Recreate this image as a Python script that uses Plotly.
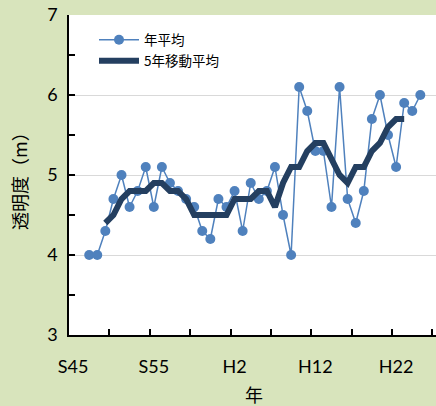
import plotly.graph_objects as go

# Category axis labels (Showa / Heisei years)
year_labels = ["S45", "S46", "S47", "S48", "S49", "S50", "S51", "S52", "S53", "S54",
               "S55", "S56", "S57", "S58", "S59", "S60", "S61", "S62", "S63", "H1",
               "H2", "H3", "H4", "H5", "H6", "H7", "H8", "H9", "H10", "H11",
               "H12", "H13", "H14", "H15", "H16", "H17", "H18", "H19", "H20", "H21",
               "H22", "H23", "H24", "H25", "H26", "H27"]
shown_tick_labels = ["S45", "S55", "H2", "H12", "H22"]

# Annual average transparency (m)
annual_years = year_labels[2:44]
annual_values = [4.0, 4.0, 4.3, 4.7, 5.0, 4.6, 4.8, 5.1, 4.6, 5.1,
                 4.9, 4.8, 4.7, 4.6, 4.3, 4.2, 4.7, 4.6, 4.8, 4.3,
                 4.9, 4.7, 4.8, 5.1, 4.5, 4.0, 6.1, 5.8, 5.3, 5.3,
                 4.6, 6.1, 4.7, 4.4, 4.8, 5.7, 6.0, 5.5, 5.1, 5.9,
                 5.8, 6.0]

# 5-year moving average (m)
ma_years = year_labels[4:42]
ma_values = [4.4, 4.5, 4.7, 4.8, 4.8, 4.8, 4.9, 4.9, 4.8, 4.8,
             4.7, 4.5, 4.5, 4.5, 4.5, 4.5, 4.7, 4.7, 4.7, 4.8,
             4.8, 4.6, 4.9, 5.1, 5.1, 5.3, 5.4, 5.4, 5.2, 5.0,
             4.9, 5.1, 5.1, 5.3, 5.4, 5.6, 5.7, 5.7]

idx = {lab: i for i, lab in enumerate(year_labels)}
x_annual = [idx[y] for y in annual_years]
x_ma = [idx[y] for y in ma_years]

FONT = "Lato, 'Noto Sans CJK JP', sans-serif"
CJK = "'Noto Sans CJK JP', Lato, sans-serif"
BG = "#D8E4BC"

W, H = 436, 406
L, R, T, B = 69, 0, 15, 71
PW, PH = W - L - R, H - T - B


def px_x(px):
    return (px - L) / PW


def px_y(py):
    return (H - B - py) / PH


fig = go.Figure()
fig.add_trace(go.Scatter(
    x=x_annual, y=annual_values, mode="lines+markers", name="年平均",
    line=dict(color="#4F81BD", width=1.5),
    marker=dict(color="#4F81BD", size=10),
    legend="legend",
))
fig.add_trace(go.Scatter(
    x=x_ma, y=ma_values, mode="lines", name="5年移動平均",
    line=dict(color="#243F60", width=6),
    legend="legend2",
))

legend_common = dict(
    xanchor="left", yanchor="middle",
    bgcolor="rgba(255,255,255,0)",
    font=dict(family=CJK, size=13.5, color="#000000"),
    itemwidth=40,
)

fig.update_layout(
    width=W, height=H,
    margin=dict(l=L, r=R, t=T, b=B, autoexpand=False),
    paper_bgcolor=BG,
    plot_bgcolor="#FFFFFF",
    font=dict(family=FONT, size=18, color="#000000"),
    showlegend=True,
    legend=dict(x=px_x(94), y=px_y(40), **legend_common),
    legend2=dict(x=px_x(94), y=px_y(61), **legend_common),
    annotations=[
        dict(text="透明度（m）", xref="paper", yref="paper",
             x=px_x(19), y=px_y(176), textangle=-90, showarrow=False,
             xanchor="center", yanchor="middle",
             font=dict(family=CJK, size=18, color="#000000")),
        dict(text="年", xref="paper", yref="paper",
             x=px_x(254), y=px_y(394), showarrow=False,
             xanchor="center", yanchor="middle",
             font=dict(family=CJK, size=18, color="#000000")),
    ],
)

tick_positions = [idx[t] for t in shown_tick_labels]
fig.update_xaxes(
    range=[-0.5, 44.94], automargin=False,
    tickmode="array", tickvals=tick_positions, ticktext=shown_tick_labels,
    ticks="", showgrid=False, zeroline=False,
    showline=True, linecolor="#000000", linewidth=1.5,
    tickfont=dict(family=FONT, size=18),
    ticklabelstandoff=15,
    minor=dict(tickvals=[4.5, 9.5, 14.5, 19.5, 24.5, 29.5, 34.5, 39.5, 44.5],
               ticks="inside", ticklen=6, tickcolor="#000000", tickwidth=1.5,
               showgrid=False),
)
fig.update_yaxes(
    range=[3, 7], automargin=False,
    tickmode="array", tickvals=[3, 4, 5, 6, 7],
    ticks="inside", ticklen=6, tickcolor="#000000", tickwidth=1.5,
    showgrid=True, gridcolor="#D9D9D9", gridwidth=1,
    zeroline=False,
    showline=True, linecolor="#000000", linewidth=1.5,
    tickfont=dict(family=FONT, size=18),
    ticklabelstandoff=6,
    minor=dict(tickvals=[3.5, 4.5, 5.5, 6.5], ticks="inside", ticklen=6,
               tickcolor="#000000", tickwidth=1.5, showgrid=False),
)

fig.write_html(
    "out.html",
    config={"displayModeBar": False},
    post_script=(
        "document.body.style.margin='0';"
        "document.body.style.padding='0';"
        "document.body.style.overflow='hidden';"
        f"document.body.style.background='{BG}';"
    ),
)
